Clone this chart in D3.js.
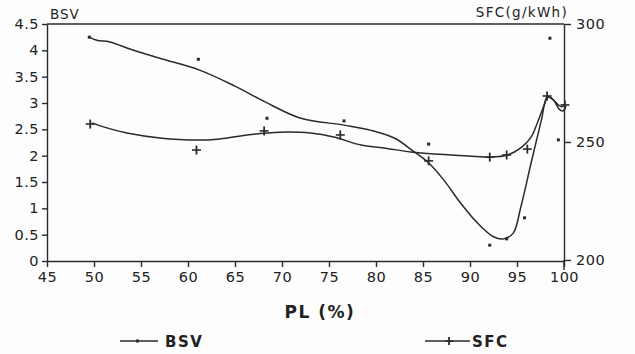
<!DOCTYPE html>
<html>
<head>
<meta charset="utf-8">
<script src="https://cdn.jsdelivr.net/npm/d3@7"></script>
<style>
  body { margin: 0; background: #fdfdfd; }
  svg text { font-family: "DejaVu Sans", sans-serif; fill: #222; }
</style>
</head>
<body>
<div id="graphe"></div>
<script>
// valeurs
const xTicks = [45, 50, 55, 60, 65, 70, 75, 80, 85, 90, 95, 100];
const bsvTicks = [0, 0.5, 1, 1.5, 2, 2.5, 3, 3.5, 4, 4.5];
const sfcTicks = [200, 250, 300];

// points mesures
const bsvPL = [49.5, 61.1, 68.4, 76.6, 85.6, 92.1, 93.9, 95.8, 98.5, 99.4];
const bsvVal = [4.25, 3.83, 2.71, 2.66, 2.22, 0.3, 0.42, 0.82, 4.23, 2.3];
const sfcPL = [49.6, 60.9, 68.1, 76.2, 85.6, 92.1, 93.9, 96.1, 98.2, 100.1];
const sfcVal = [257.6, 246.6, 254.7, 253.0, 242.0, 243.6, 244.5, 247.0, 269.5, 265.7];

// courbes lissees
const bsvCourbePL = [49.5, 50.3, 51.7, 53.9, 57.0, 61.3, 65.0, 68.2, 72.0, 76.6, 79.5, 82.0, 84.0, 85.5, 87.2, 89.0, 90.8, 92.5, 93.6, 94.6, 95.4, 96.5, 97.6, 98.2, 98.7, 99.3, 99.7, 100.1];
const bsvCourbeVal = [4.25, 4.19, 4.16, 4.02, 3.85, 3.62, 3.32, 3.02, 2.71, 2.58, 2.48, 2.33, 2.08, 1.88, 1.54, 1.10, 0.72, 0.46, 0.42, 0.53, 1.02, 1.86, 2.68, 3.11, 3.08, 2.98, 2.93, 2.96];
const sfcCourbePL = [49.8, 51.0, 53.5, 57.0, 61.0, 63.4, 66.3, 68.5, 70.6, 73.0, 75.5, 78.4, 80.8, 83.7, 86.2, 89.8, 92.2, 94.0, 95.4, 96.5, 97.2, 97.9, 98.3, 98.9, 99.5, 99.9, 100.2];
const sfcCourbeVal = [258.1, 256.4, 253.8, 251.7, 250.8, 251.3, 253.0, 253.8, 254.2, 253.8, 252.1, 248.7, 247.5, 245.8, 244.9, 244.1, 243.6, 244.5, 247.5, 252.1, 258.5, 265.7, 269.1, 267.8, 263.8, 263.2, 265.3];

const largeur = 635, hauteur = 354;
const encre = "#2a2a2a";

const svg = d3.select("#graphe").append("svg")
    .attr("width", largeur)
    .attr("height", hauteur);

const x = d3.scaleLinear().domain([45, 100]).range([47, 564]);
const yBsv = d3.scaleLinear().domain([0, 4.5]).range([261, 24]);
const ySfc = d3.scaleLinear().domain([200, 300]).range([260, 24]);

// cadre du haut
svg.append("line")
    .attr("x1", x(45)).attr("x2", x(100))
    .attr("y1", yBsv(4.5)).attr("y2", yBsv(4.5))
    .attr("stroke", encre).attr("stroke-width", 1.4);

// axes
const axeX = svg.append("g")
    .attr("transform", "translate(0," + yBsv(0) + ")")
    .call(d3.axisBottom(x).tickValues(xTicks).tickSize(6).tickPadding(5).tickSizeOuter(0));

const axeG = svg.append("g")
    .attr("transform", "translate(" + x(45) + ",0)")
    .call(d3.axisLeft(yBsv).tickValues(bsvTicks).tickSize(5).tickPadding(3).tickSizeOuter(0)
        .tickFormat(d => String(d)));

const axeD = svg.append("g")
    .attr("transform", "translate(" + x(100) + ",0)")
    .call(d3.axisRight(ySfc).tickValues(sfcTicks).tickSize(7).tickPadding(5).tickSizeOuter(0));

[axeX, axeG, axeD].forEach(function (a) {
    a.selectAll("path, line").attr("stroke", encre).attr("stroke-width", 1.4);
    a.selectAll("text")
        .attr("font-size", 14.5)
        .attr("letter-spacing", 0.5)
        .attr("fill", encre);
});
// l'axe de droite descend un peu sous le cadre
svg.append("line")
    .attr("x1", x(100)).attr("x2", x(100))
    .attr("y1", ySfc(200)).attr("y2", ySfc(200) + 10)
    .attr("stroke", encre).attr("stroke-width", 1.4);

// titres
svg.append("text").attr("x", 50).attr("y", 19)
    .attr("font-size", 13.5).attr("letter-spacing", 1).text("BSV");
svg.append("text").attr("x", 568).attr("y", 17)
    .attr("text-anchor", "end").attr("font-size", 13.5).attr("letter-spacing", 1.3)
    .text("SFC(g/kWh)");
svg.append("text").attr("x", 320).attr("y", 318)
    .attr("text-anchor", "middle").attr("font-size", 17).attr("font-weight", "bold")
    .attr("letter-spacing", 1.5).text("PL (%)");

// courbes
function trace(px, py, y) {
    return d3.line()
        .x((d, i) => x(px[i]))
        .y((d, i) => y(py[i]))
        .curve(d3.curveCatmullRom.alpha(0.5))(px);
}
svg.append("path")
    .attr("d", trace(bsvCourbePL, bsvCourbeVal, yBsv))
    .attr("fill", "none").attr("stroke", encre).attr("stroke-width", 1.5);
svg.append("path")
    .attr("d", trace(sfcCourbePL, sfcCourbeVal, ySfc))
    .attr("fill", "none").attr("stroke", encre).attr("stroke-width", 1.5);

// points BSV
svg.selectAll(".bsv").data(bsvPL).enter().append("rect")
    .attr("class", "bsv")
    .attr("x", (d) => x(d) - 1.5)
    .attr("y", (d, i) => yBsv(bsvVal[i]) - 1.5)
    .attr("width", 3).attr("height", 3)
    .attr("fill", encre);

// croix SFC
function croix(g, cx, cy, t) {
    g.append("line").attr("x1", cx - t).attr("x2", cx + t).attr("y1", cy).attr("y2", cy)
        .attr("stroke", encre).attr("stroke-width", 1.6);
    g.append("line").attr("x1", cx).attr("x2", cx).attr("y1", cy - t).attr("y2", cy + t)
        .attr("stroke", encre).attr("stroke-width", 1.8);
}
const gCroix = svg.append("g");
sfcPL.forEach(function (d, i) {
    croix(gCroix, x(d), ySfc(sfcVal[i]), 4.5);
});

// legende
const leg = svg.append("g");
leg.append("line").attr("x1", 120).attr("x2", 158).attr("y1", 341).attr("y2", 341)
    .attr("stroke", encre).attr("stroke-width", 1.4);
leg.append("rect").attr("x", 136).attr("y", 339.5).attr("width", 3).attr("height", 3).attr("fill", encre);
leg.append("text").attr("x", 165).attr("y", 347).attr("font-size", 15)
    .attr("font-weight", "bold").attr("letter-spacing", 1.5).text("BSV");
leg.append("line").attr("x1", 425).attr("x2", 470).attr("y1", 341).attr("y2", 341)
    .attr("stroke", encre).attr("stroke-width", 1.4);
croix(leg, 449, 341, 4);
leg.append("text").attr("x", 472).attr("y", 347).attr("font-size", 15)
    .attr("font-weight", "bold").attr("letter-spacing", 1.5).text("SFC");
</script>
</body>
</html>
